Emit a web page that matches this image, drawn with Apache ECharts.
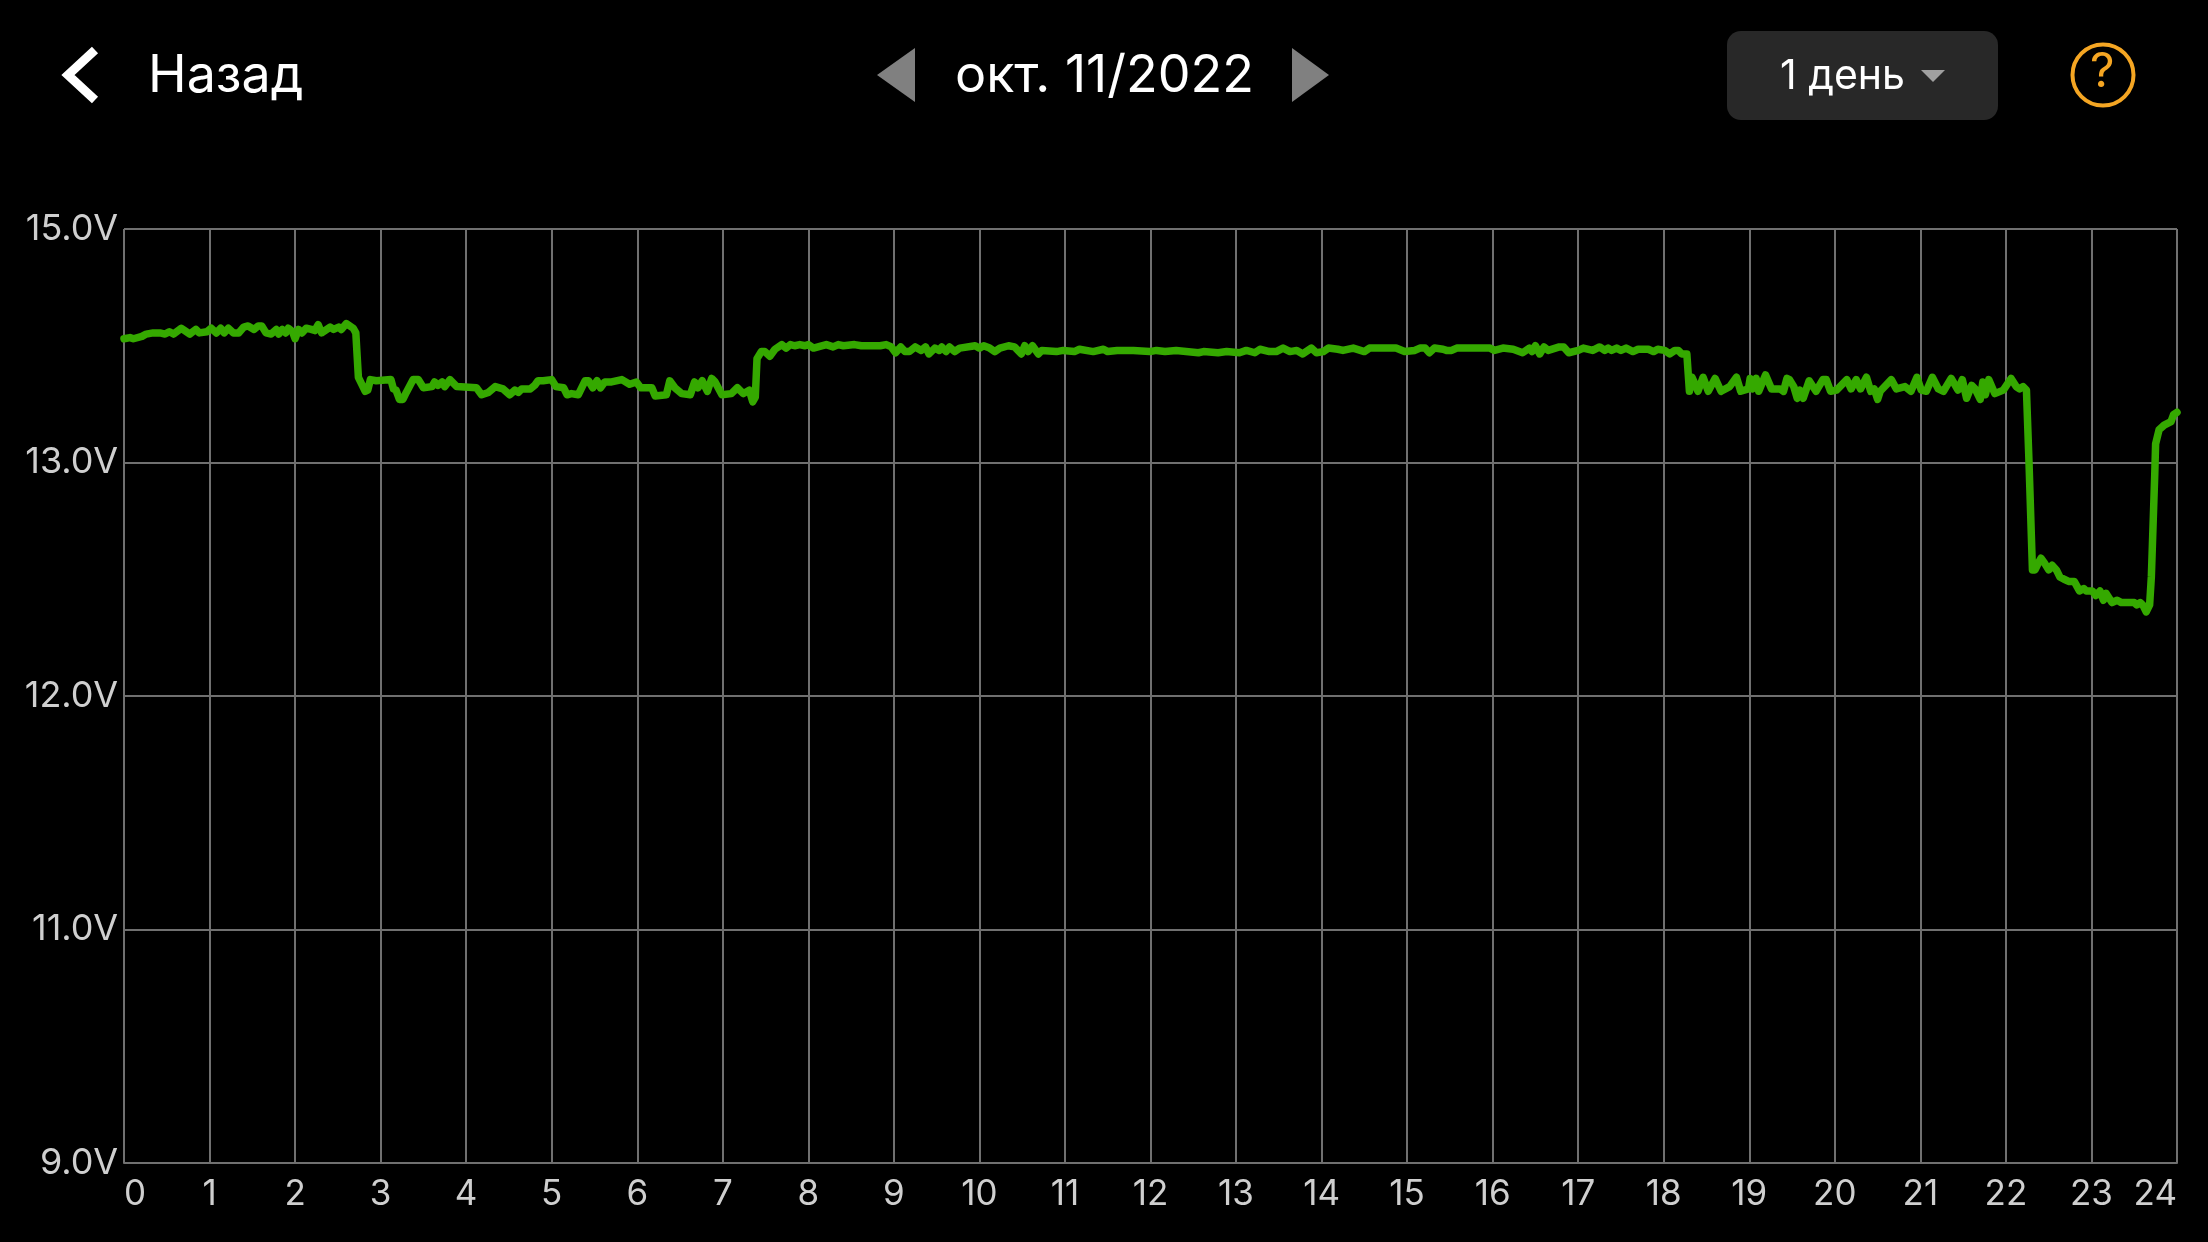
<!DOCTYPE html>
<html>
<head>
<meta charset="utf-8">
<title>Напряжение</title>
<script src="https://cdn.jsdelivr.net/npm/echarts@6/dist/echarts.min.js"></script>
<style>
html, body { margin: 0; padding: 0; background: #000; }
#chart { width: 2208px; height: 1242px; }
</style>
</head>
<body>
<div id="chart"></div>
<script>
// часы суток
const hours = [
  0.00,0.07,0.11,0.21,0.26,0.34,0.42,0.48,0.53,0.58,0.67,0.71,0.77,0.84,0.88,0.97,
  1.02,1.08,1.13,1.17,1.22,1.28,1.34,1.40,1.45,1.52,1.57,1.61,1.66,1.72,1.78,1.81,1.85,1.89,1.92,1.97,
  2.00,2.04,2.08,2.13,2.19,2.23,2.27,2.31,2.41,2.45,2.51,2.54,2.60,2.68,2.71,2.74,2.82,2.85,2.88,2.95,
  3.12,3.15,3.18,3.22,3.26,3.30,3.38,3.44,3.50,3.60,3.63,3.67,3.72,3.75,3.81,3.89,
  4.12,4.18,4.26,4.34,4.43,4.51,4.57,4.61,4.65,4.75,4.80,4.84,4.90,
  5.00,5.05,5.14,5.18,5.23,5.31,5.39,5.43,5.48,5.53,5.57,5.62,5.70,5.82,5.91,5.99,
  6.04,6.17,6.21,6.34,6.38,6.44,6.52,6.62,6.67,6.71,6.76,6.82,6.87,6.91,6.99,
  7.10,7.17,7.24,7.31,7.35,7.38,7.40,7.45,7.49,7.55,7.61,7.69,7.74,7.79,7.84,7.90,7.96,
  8.00,8.06,8.21,8.29,8.35,8.41,8.54,8.62,8.76,8.84,8.91,8.97,
  9.02,9.08,9.13,9.18,9.25,9.32,9.37,9.41,9.48,9.53,9.56,9.61,9.65,9.71,9.77,9.95,
  10.00,10.05,10.12,10.18,10.24,10.34,10.41,10.49,10.53,10.57,10.62,10.69,10.73,10.90,10.98,
  11.11,11.17,11.33,11.45,11.50,11.61,11.72,11.80,11.99,
  12.07,12.17,12.30,12.56,12.62,12.79,12.89,
  13.04,13.12,13.22,13.28,13.39,13.47,13.55,13.63,13.71,13.78,13.88,13.94,
  14.02,14.08,14.19,14.25,14.37,14.50,14.56,14.87,14.97,
  15.09,15.15,15.21,15.26,15.32,15.42,15.46,15.52,15.58,15.97,
  16.02,16.12,16.24,16.35,16.43,16.46,16.50,16.55,16.60,16.65,16.78,16.83,16.89,
  17.00,17.06,17.17,17.25,17.31,17.35,17.39,17.45,17.50,17.56,17.64,17.70,17.82,17.88,17.93,
  18.01,18.07,18.13,18.17,18.21,18.27,18.30,18.33,18.36,18.40,18.46,18.52,18.60,18.67,18.77,18.85,18.90,18.99,
  19.01,19.04,19.08,19.11,19.19,19.26,19.36,19.40,19.44,19.47,19.52,19.56,19.59,19.63,19.70,19.78,19.86,19.90,19.95,
  20.02,20.14,20.19,20.25,20.30,20.37,20.42,20.46,20.50,20.53,20.66,20.72,20.82,20.89,20.96,
  21.01,21.07,21.14,21.21,21.27,21.36,21.44,21.49,21.54,21.60,21.64,21.70,21.73,21.76,21.80,21.87,21.97,
  22.06,22.12,22.16,22.20,22.24,22.27,22.31,22.34,22.38,22.41,22.45,22.50,22.54,22.59,22.63,22.68,22.74,22.80,22.86,22.91,22.94,
  23.01,23.05,23.10,23.14,23.17,23.24,23.30,23.35,23.50,23.53,23.57,23.60,23.64,23.68,23.70,23.74,23.75,23.79,23.85,23.93,23.96,24.00
]

// напряжение, В
const volts = [
  14.06,14.07,14.06,14.08,14.10,14.11,14.11,14.10,14.12,14.10,14.15,14.13,14.10,14.14,14.11,14.12,
  14.15,14.11,14.15,14.11,14.15,14.11,14.11,14.16,14.17,14.14,14.17,14.17,14.11,14.10,14.14,14.10,14.14,14.11,14.15,14.12,
  14.06,14.14,14.11,14.15,14.14,14.13,14.18,14.11,14.16,14.14,14.16,14.14,14.19,14.15,14.11,13.73,13.61,13.62,13.71,13.70,
  13.71,13.63,13.62,13.54,13.54,13.60,13.71,13.71,13.64,13.65,13.69,13.66,13.69,13.65,13.71,13.65,
  13.64,13.58,13.60,13.65,13.63,13.58,13.62,13.60,13.63,13.63,13.66,13.70,13.70,
  13.71,13.65,13.64,13.58,13.59,13.58,13.70,13.70,13.64,13.70,13.64,13.69,13.69,13.71,13.67,13.69,
  13.64,13.64,13.57,13.58,13.70,13.64,13.59,13.58,13.69,13.64,13.70,13.61,13.72,13.69,13.58,
  13.59,13.64,13.59,13.62,13.52,13.56,13.89,13.95,13.95,13.91,13.97,14.01,13.98,14.01,14.00,14.01,14.00,
  14.01,13.98,14.01,13.99,14.01,14.00,14.01,14.00,14.00,14.00,14.01,13.99,
  13.94,13.99,13.95,13.95,13.99,13.96,13.99,13.93,13.98,13.96,13.99,13.95,13.99,13.95,13.98,14.00,
  13.98,14.00,13.98,13.95,13.98,14.00,13.99,13.93,14.00,13.95,14.00,13.93,13.96,13.95,13.96,
  13.95,13.97,13.95,13.97,13.95,13.96,13.96,13.96,13.95,
  13.96,13.95,13.96,13.94,13.95,13.94,13.95,
  13.94,13.96,13.94,13.97,13.95,13.95,13.98,13.95,13.96,13.93,13.98,13.94,
  13.95,13.98,13.97,13.96,13.98,13.95,13.98,13.98,13.95,
  13.96,13.98,13.98,13.94,13.98,13.97,13.96,13.96,13.98,13.98,
  13.96,13.98,13.97,13.94,13.98,13.95,14.00,13.93,13.99,13.96,13.99,13.99,13.94,
  13.96,13.98,13.96,13.99,13.96,13.98,13.96,13.98,13.96,13.98,13.95,13.97,13.97,13.95,13.97,
  13.96,13.93,13.96,13.96,13.93,13.93,13.61,13.73,13.68,13.61,13.73,13.61,13.72,13.61,13.65,13.73,13.61,13.63,
  13.72,13.63,13.72,13.61,13.75,13.63,13.63,13.61,13.72,13.71,13.65,13.55,13.62,13.55,13.70,13.61,13.71,13.71,13.61,
  13.62,13.71,13.63,13.71,13.63,13.73,13.61,13.63,13.54,13.61,13.71,13.63,13.65,13.61,13.73,
  13.62,13.61,13.73,13.63,13.61,13.72,13.62,13.71,13.55,13.66,13.63,13.54,13.69,13.58,13.71,13.59,13.62,
  13.72,13.65,13.63,13.65,13.62,13.00,12.54,12.54,12.57,12.59,12.57,12.54,12.56,12.54,12.51,12.50,12.49,12.49,12.45,12.46,12.45,
  12.45,12.43,12.45,12.41,12.44,12.40,12.41,12.40,12.40,12.39,12.40,12.39,12.36,12.39,12.51,12.95,13.16,13.28,13.32,13.35,13.41,13.43
]

// подписи оси: шаг сетки одинаковый, а вольты неравномерные
const voltTicks = [9, 11, 12, 13, 15]

const voltToAxis = (v) => {
  for (let i = 0; i < voltTicks.length - 1; i++) {
    if (v <= voltTicks[i + 1]) {
      return i + (v - voltTicks[i]) / (voltTicks[i + 1] - voltTicks[i])
    }
  }
  return voltTicks.length - 1
}

const uiFont = 'Inter'
const gridLine = { color: '#707070', width: 2 }

const chart = echarts.init(document.getElementById('chart'))
chart.setOption({
  animation: false,
  backgroundColor: '#000',
  grid: { left: 124, top: 229, width: 2053, height: 934 },
  xAxis: {
    type: 'value',
    min: 0,
    max: 24,
    interval: 1,
    axisLine: { show: true, onZero: false, lineStyle: gridLine },
    axisTick: { show: false },
    splitLine: { show: true, lineStyle: gridLine },
    axisLabel: {
      color: '#cfcfcf',
      fontFamily: uiFont,
      fontSize: 35,
      margin: 14,
      alignMinLabel: 'left',
      alignMaxLabel: 'right'
    }
  },
  yAxis: {
    type: 'value',
    min: 0,
    max: voltTicks.length - 1,
    interval: 1,
    axisLine: { show: false },
    axisTick: { show: false },
    splitLine: { show: true, lineStyle: gridLine },
    axisLabel: {
      color: '#cfcfcf',
      fontFamily: uiFont,
      fontSize: 36,
      margin: 6,
      padding: [0, 0, 5, 0],
      formatter: (i) => voltTicks[i].toFixed(1) + 'V'
    }
  },
  series: [
    {
      type: 'line',
      data: hours.map((h, i) => [h, voltToAxis(volts[i])]),
      symbol: 'none',
      lineStyle: { color: '#35a900', width: 7.5, join: 'round', cap: 'round' }
    }
  ],
  graphic: [
    // назад
    {
      type: 'polyline',
      shape: { points: [[95, 50], [68, 75], [95, 100]] },
      style: { stroke: '#fff', lineWidth: 9, fill: null }
    },
    {
      type: 'text', left: 148, top: 50,
      style: { text: 'Назад', fill: '#fff', font: '52px ' + uiFont }
    },
    // дата
    {
      type: 'polygon',
      shape: { points: [[915, 48], [877, 75], [915, 102]] },
      style: { fill: '#808080' }
    },
    {
      type: 'text', left: 955, top: 50,
      style: { text: 'окт. 11/2022', fill: '#fff', font: '52px ' + uiFont }
    },
    {
      type: 'polygon',
      shape: { points: [[1292, 48], [1329, 75], [1292, 102]] },
      style: { fill: '#808080' }
    },
    // период
    {
      type: 'rect',
      shape: { x: 1727, y: 31, width: 271, height: 89, r: 14 },
      style: { fill: '#282828' }
    },
    {
      type: 'text', left: 1780, top: 56,
      style: { text: '1 день', fill: '#fff', font: '41px ' + uiFont }
    },
    {
      type: 'polygon',
      shape: { points: [[1921, 70], [1945, 70], [1933, 82]] },
      style: { fill: '#a0a0a0' }
    },
    // справка
    {
      type: 'circle',
      shape: { cx: 2103, cy: 75, r: 30.5 },
      style: { stroke: '#f5a623', lineWidth: 4, fill: null }
    },
    {
      type: 'text', left: 2090, top: 49,
      style: { text: '?', fill: '#f5a623', font: '48px ' + uiFont }
    }
  ]
})
</script>
</body>
</html>
